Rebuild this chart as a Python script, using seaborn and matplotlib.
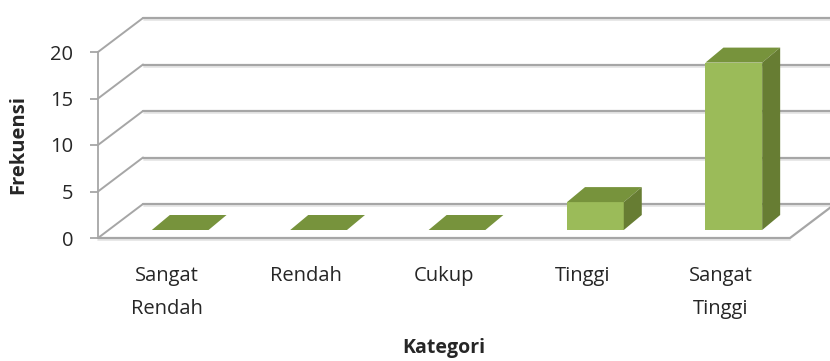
import matplotlib
matplotlib.use("Agg")
import matplotlib.pyplot as plt
import matplotlib.transforms as mtransforms
from matplotlib.patches import Polygon
import seaborn as sns
import pandas as pd

# === DATA ===
categories = ["Sangat\nRendah", "Rendah", "Cukup", "Tinggi", "Sangat\nTinggi"]
frekuensi = [0, 0, 0, 3, 18]
y_ticks = [0, 5, 10, 15, 20]

# === STYLE ===
sns.set_style("white")
plt.rcParams['font.family'] = ['Open Sans', 'DejaVu Sans']

FRONT = "#9BBB59"
TOP = "#77933C"
SIDE = "#677D33"
GRID = "#A6A6A6"

WALL_DX, WALL_DY = 45, 34      # depth of the back wall (pixels)
BAR_DX, BAR_DY = 13, 8         # bars sit a bit behind the front plane
DEPTH_DX, DEPTH_DY = 18, 15    # bar thickness

fig = plt.figure(figsize=(8.3, 3.61), dpi=100)
ax = fig.add_axes([98 / 830, (361 - 238) / 361, 692 / 830, 186 / 361])

df = pd.DataFrame({"Kategori": categories, "Frekuensi": frekuensi})
sns.barplot(data=df, x="Kategori", y="Frekuensi", color=FRONT, width=0.41,
            linewidth=0, saturation=1, ax=ax, zorder=3)

ax.set_xlim(-0.5, len(categories) - 0.5)
ax.set_ylim(0, 20)
ax.set_yticks(y_ticks)
for s in ["top", "right", "bottom"]:
    ax.spines[s].set_visible(False)
ax.spines["left"].set_color(GRID)
ax.spines["left"].set_linewidth(1.3)
ax.patch.set_visible(False)

ax.tick_params(axis="y", length=6, width=1.3, color=GRID, pad=12, labelsize=14.5, left=True)
ax.tick_params(axis="x", length=0, pad=20, labelsize=14.5)
for lab in ax.get_xticklabels():
    lab.set_linespacing(1.85)

ax.set_ylabel("Frekuensi", fontsize=14.5, fontweight="bold")
ax.yaxis.set_label_coords(-0.101, 0.5)
ax.set_xlabel("Kategori", fontsize=14, fontweight="bold")
ax.xaxis.set_label_coords(0.5, -0.54)

ident = mtransforms.IdentityTransform()
fig.canvas.draw()


def disp(x, y):
    return ax.transData.transform((x, y))


x0, x1 = -0.5, len(categories) - 0.5

# back wall gridlines + side wall diagonals
for v in y_ticks:
    fx, fy = disp(x0, v)
    bx, by = fx + WALL_DX, fy + WALL_DY
    ax.plot([fx, bx], [fy, by], color=GRID, lw=1.4, transform=ident, clip_on=False, zorder=1)
    ax.plot([bx, 900], [by, by], color=GRID, lw=1.6, transform=ident, clip_on=False, zorder=1)
    ax.plot([bx + 1, 900], [by - 2, by - 2], color="#E4E4E4", lw=1.2, transform=ident,
            clip_on=False, zorder=0.9)

# floor front edge and right edge
lx, ly = disp(x0, 0)
rx, ry = disp(x1, 0)
ax.plot([lx, rx, rx + WALL_DX], [ly, ry, ry + WALL_DY], color=GRID, lw=1.6,
        transform=ident, clip_on=False, zorder=1)
ax.plot([lx, rx], [ly - 2, ry - 2], color="#E4E4E4", lw=1.2, transform=ident,
        clip_on=False, zorder=0.9)

# pseudo-3D bars
bar_shift = mtransforms.offset_copy(ax.transData, fig=fig, x=BAR_DX, y=BAR_DY, units="dots")
for p in ax.patches[:len(categories)]:
    p.set_transform(bar_shift)
    bx0, by0 = bar_shift.transform((p.get_x(), p.get_y()))
    bx1, by1 = bar_shift.transform((p.get_x() + p.get_width(), p.get_y() + p.get_height()))
    top = Polygon([(bx0, by1), (bx1, by1), (bx1 + DEPTH_DX, by1 + DEPTH_DY),
                   (bx0 + DEPTH_DX, by1 + DEPTH_DY)], closed=True, facecolor=TOP,
                  edgecolor="none", transform=ident, clip_on=False, zorder=3)
    ax.add_artist(top)
    if by1 - by0 > 0.5:
        side = Polygon([(bx1, by0), (bx1, by1), (bx1 + DEPTH_DX, by1 + DEPTH_DY),
                        (bx1 + DEPTH_DX, by0 + DEPTH_DY)], closed=True, facecolor=SIDE,
                       edgecolor="none", transform=ident, clip_on=False, zorder=3)
        ax.add_artist(side)

fig.savefig("out.png", dpi=100)
